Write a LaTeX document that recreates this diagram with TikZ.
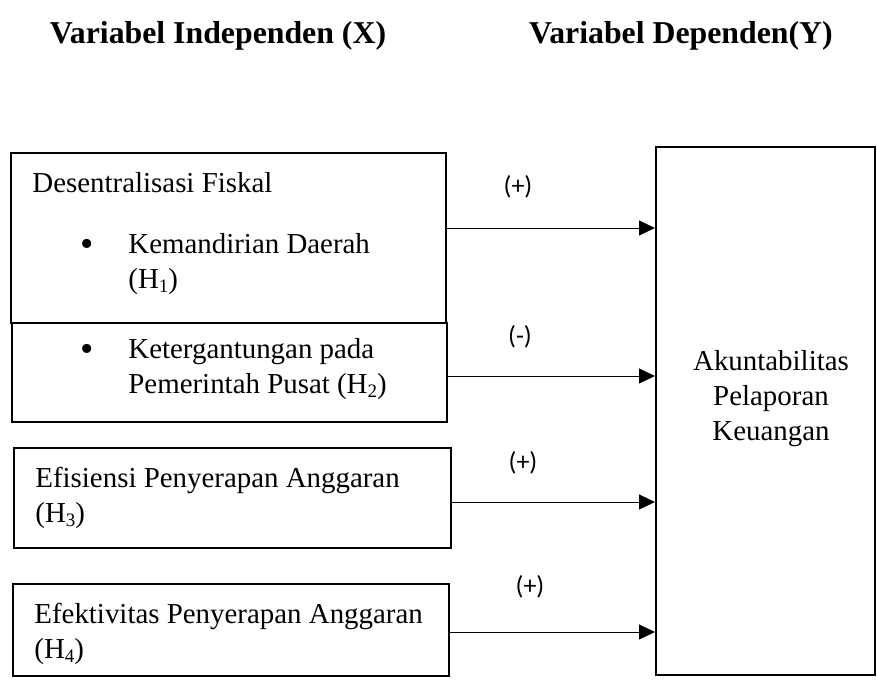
\documentclass[tikz,border=0pt]{standalone}
\usepackage{fontspec}
\setmainfont{Liberation Serif}
\newfontfamily\signfont{Carlito}
\usetikzlibrary{arrows.meta,fit}
\newcommand{\hsub}[1]{\raisebox{-0.14em}{\fontsize{9.5}{9.5}\selectfont #1}}

\tikzset{
  kotak/.style={draw, line width=1pt, inner sep=0pt},
  teks/.style={inner sep=0pt, font=\fontsize{14.45}{17.5}\selectfont},
  judul/.style={inner sep=0pt, font=\fontsize{15.9}{19}\selectfont\bfseries},
  tanda/.style={inner sep=0pt, font=\signfont\fontsize{13}{15}\selectfont},
  titik/.style={inner sep=0pt, font=\fontsize{19}{19}\selectfont},
  panah/.style={line width=0.5pt, -{Triangle[length=8pt,width=7.5pt]}}
}

\begin{document}
\begin{tikzpicture}[x=0.5pt,y=-0.5pt]
\useasboundingbox (0,0) rectangle (877,680);
%%%%%%%%%%%%%%%%%%Judul Kolom%%%%%%%%%%%%%%%
\node[judul, anchor=base] (judulX) at (218,43) {Variabel Independen (X)};
\node[judul, anchor=base] (judulY) at (681,43) {Variabel Dependen(Y)};

%%%%%%%%%%%%%%Kotak Variabel Independen%%%%%%%%%%%%%%
\node[kotak, fit={(11,153) (446,323)}] (desentral) {};
\node[kotak, fit={(12,323) (447,422)}] (ketergantungan) {};
\node[kotak, fit={(14,448) (451,548)}] (efisiensi) {};
\node[kotak, fit={(13,584) (449,676)}] (efektivitas) {};

%%%%%%%%%%%%%%Isi Kotak Independen%%%%%%%%%%%%%%
\node[teks, anchor=base west] (tDesentral) at (32,192) {Desentralisasi Fiskal};
\node[titik, anchor=base west] (bulletA) at (80,256) {•};
\node[teks, anchor=north west, align=left] (tKemandirian) at (128,233)
{Kemandirian Daerah\\(H\hsub{1})};
\node[titik, anchor=base west] (bulletB) at (80,361) {•};
\node[teks, anchor=north west, align=left] (tKetergantungan) at (128,338)
{Ketergantungan pada\\Pemerintah Pusat (H\hsub{2})};
\node[teks, anchor=north west, align=left] (tEfisiensi) at (35,467)
{Efisiensi Penyerapan Anggaran\\(H\hsub{3})};
\node[teks, anchor=north west, align=left] (tEfektivitas) at (34,603)
{Efektivitas Penyerapan Anggaran\\(H\hsub{4})};

%%%%%%%%%%%%%%Kotak Variabel Dependen%%%%%%%%%%%%%%
\node[kotak, fit={(656,147) (875,675)}] (akuntabilitas) {};
\node[teks, align=center] (tAkuntabilitas) at (771,399)
{Akuntabilitas\\Pelaporan\\Keuangan};

%%%%%%%%%%%%%%Panah Hubungan X ke Y%%%%%%%%%%%%%%
\draw[panah] (desentral.east |- 0,228) -- (akuntabilitas.west |- 0,228);
\draw[panah] (ketergantungan.east |- 0,376) -- (akuntabilitas.west |- 0,376);
\draw[panah] (efisiensi.east |- 0,502) -- (akuntabilitas.west |- 0,502);
\draw[panah] (efektivitas.east |- 0,632) -- (akuntabilitas.west |- 0,632);

%%%%%%%%%%%%%%Tanda Pengaruh%%%%%%%%%%%%%%
\node[tanda] (tandaA) at (518,187) {(+)};
\node[tanda] (tandaB) at (520,337) {(-)};
\node[tanda] (tandaC) at (523,463) {(+)};
\node[tanda] (tandaD) at (530,587) {(+)};

\end{tikzpicture}
\end{document}
